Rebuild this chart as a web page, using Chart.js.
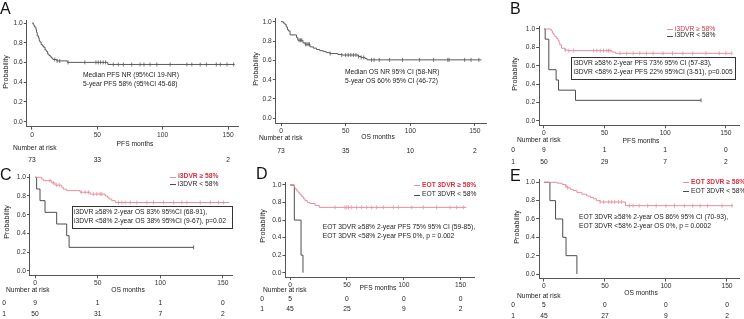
<!DOCTYPE html>
<html lang="en">
<head>
<meta charset="UTF-8">
<title>Kaplan-Meier curves</title>
<script src="https://cdn.jsdelivr.net/npm/chart.js"></script>
<style>
  body { margin: 0; background: #fff; }
  #wrap { position: relative; width: 744px; height: 319px; overflow: hidden; }
  #wrap canvas { position: absolute; left: 0; top: 0; }
</style>
</head>
<body>
<div id="wrap">
  <canvas id="pA" width="744" height="319"></canvas>
  <canvas id="pOS" width="744" height="319"></canvas>
  <canvas id="pB" width="744" height="319"></canvas>
  <canvas id="pC" width="744" height="319"></canvas>
  <canvas id="pD" width="744" height="319"></canvas>
  <canvas id="pE" width="744" height="319"></canvas>
</div>
<script>
// ---- data ----
const xTicks = [0, 50, 100, 150];
const yTicks = [0, 0.2, 0.4, 0.6, 0.8, 1.0];
const riskTimes = [0, 50, 100, 150];

// A: PFS, all patients
const aTime = [0, 1, 1.5, 2, 3, 3.5, 4, 5, 5.5, 6, 7, 8, 9, 10, 11, 12, 13, 14, 15, 16, 19, 27, 58, 155];
const aSurv = [1, 0.986, 0.973, 0.959, 0.932, 0.904, 0.870, 0.849, 0.822, 0.808, 0.781, 0.767, 0.753, 0.726, 0.712, 0.685, 0.671, 0.657, 0.644, 0.630, 0.616, 0.601, 0.58, 0.58];
const aCens = [17.4, 19.2, 21.2, 27.6, 40.4, 48.9, 50.7, 52.5, 54.5, 56.3, 62.2, 66, 69.9, 76.3, 82.7, 85.7, 90.3, 95.5, 105.7, 118.5, 122.3, 128.7, 133.4, 141, 144.1, 149.2, 154.3];
const aRisk = [73, 33, null, 2];

// OS, all patients
const osTime = [0, 1.8, 3, 4, 5, 5.7, 7, 12, 13, 17, 18.5, 22.4, 25, 27.5, 30, 32.7, 35, 38, 44, 47, 59.7, 62, 65, 66.5, 155];
const osSurv = [1, 0.986, 0.973, 0.945, 0.918, 0.904, 0.863, 0.836, 0.808, 0.781, 0.767, 0.74, 0.726, 0.712, 0.70, 0.69, 0.68, 0.67, 0.66, 0.655, 0.64, 0.63, 0.62, 0.605, 0.605];
const osCens = [14, 15, 16, 19, 20, 21, 22, 38, 47, 50, 52, 54, 56, 58, 60, 62, 64, 70, 72, 76, 84, 94, 107, 118, 129, 130, 142, 147, 153];
const osRisk = [73, 35, 10, 2];

// B: PFS by i3DVR
const bHiTime = [0, 6, 7, 8, 9, 10.5, 11.7, 12.5, 13.1, 14.5, 17.2, 19.9, 56, 59, 155];
const bHiSurv = [1, 0.98, 0.955, 0.935, 0.915, 0.895, 0.875, 0.85, 0.826, 0.79, 0.77, 0.764, 0.749, 0.735, 0.735];
const bHiCens = [17.7, 20.5, 24.5, 40.9, 43.6, 46.4, 49.1, 51.8, 53.2, 54.5, 62.7, 68.2, 73.6, 79, 84.5, 90, 98.2, 106, 114.5, 122.7, 133.6, 144.5, 150, 154.9];
const bLoTime = [0, 1, 4, 10, 12, 26, 129.5];
const bLoSurv = [1, 0.889, 0.556, 0.444, 0.333, 0.222, 0.222];
const bLoCens = [129.5];
const bRisk0 = [9, 1, 1, 0];
const bRisk1 = [50, 29, 7, 2];

// C: OS by i3DVR
const cHiTime = [0, 5.3, 6.7, 13.3, 16, 21.3, 22.6, 25.3, 36, 44, 56, 57.8, 59, 61.3, 64, 155];
const cHiSurv = [1, 0.98, 0.964, 0.94, 0.916, 0.893, 0.873, 0.857, 0.84, 0.82, 0.80, 0.786, 0.768, 0.75, 0.73, 0.73];
const cHiCens = [12, 14.7, 17.3, 19.4, 37, 40, 42.6, 46.6, 49.3, 52, 53.3, 66.6, 69.3, 72, 76, 81.3, 89.3, 94.6, 102.6, 110.6, 117.2, 121.2, 131.9, 139.9, 146.5, 150.5];
const cLoTime = [0, 1.3, 4, 8, 17.3, 25.3, 27.2, 126.6];
const cLoSurv = [1, 0.875, 0.75, 0.625, 0.5, 0.375, 0.25, 0.25];
const cLoCens = [126.6];
const cRisk0 = [9, 1, 1, 0];
const cRisk1 = [50, 31, 7, 2];

// D: PFS by EOT 3DVR
const dHiTime = [0, 3.8, 4.4, 5.9, 7.3, 8.8, 10.3, 11.7, 13.2, 15.2, 17.6, 22, 25.8, 155];
const dHiSurv = [1, 0.978, 0.956, 0.933, 0.911, 0.889, 0.867, 0.844, 0.822, 0.80, 0.789, 0.767, 0.745, 0.745];
const dHiCens = [39.6, 48.3, 49.8, 51.3, 54.2, 58.6, 63, 67.4, 71.8, 76.2, 82, 90.8, 95.2, 107, 117.2, 128.9, 140.6, 146.5, 152.4];
const dLoTime = [0, 3.8, 9.7, 11.4];
const dLoSurv = [1, 0.6, 0.2, 0];
const dRisk0 = [5, 0, 0, 0];
const dRisk1 = [45, 25, 9, 2];

// E: OS by EOT 3DVR
const eHiTime = [0, 11, 15, 17.6, 19, 21.6, 24, 27, 31, 35, 38, 40.5, 43, 46, 66.8, 155];
const eHiSurv = [1, 0.99, 0.975, 0.96, 0.94, 0.924, 0.91, 0.89, 0.87, 0.85, 0.836, 0.82, 0.80, 0.785, 0.745, 0.745];
const eHiCens = [18, 19.5, 46, 49, 53, 55.5, 58, 61, 63.5, 70, 73, 78, 85, 92, 100, 107, 115, 122, 128, 134, 146, 154];
const eLoTime = [0, 4.9, 9.5, 15.4, 18.1, 27];
const eLoSurv = [1, 0.8, 0.6, 0.4, 0.2, 0];
const eRisk0 = [5, 0, 0, 0];
const eRisk1 = [45, 27, 9, 2];

// ---- styling ----
const FONT = '"Liberation Sans", Arial, "DejaVu Sans", sans-serif';
const FS = 6.7;
const RED_LINE = '#e58f9b';
const RED_TEXT = '#d3303f';
const DARK = '#4d4d4d';
const GREY = '#5a5a5a';
const AXIS = '#555';
const TXT = '#222';
const Y_W = 16, X_H = 12;

function stepAt(times, surv, t) {
  let v = surv[0];
  for (let i = 0; i < times.length; i++) if (times[i] <= t) v = surv[i];
  return v;
}

function curve(times, surv, color) {
  return {
    type: 'line',
    data: times.map((t, i) => ({ x: t, y: surv[i] })),
    stepped: true,
    borderColor: color,
    borderWidth: 1,
    pointRadius: 0,
    fill: false
  };
}

function censors(cTimes, times, surv, color) {
  return {
    type: 'scatter',
    data: cTimes.map(t => ({ x: t, y: stepAt(times, surv, t) })),
    showLine: false,
    pointStyle: 'line',
    pointRotation: 90,
    pointRadius: 2,
    pointBorderColor: color,
    pointBorderWidth: 0.8
  };
}

// draws panel letters, axis titles, notes, legend and the at-risk table
const kmPlugin = {
  id: 'km',
  afterDraw(chart) {
    const o = chart.options.plugins.km;
    const ctx = chart.ctx;
    const font = (s, b) => (b ? 'bold ' : '') + s + 'px ' + FONT;
    ctx.save();
    ctx.textBaseline = 'middle';
    ctx.fillStyle = TXT;

    if (o.letter) {
      ctx.font = font(16);
      ctx.textAlign = 'left';
      ctx.fillStyle = '#111';
      ctx.fillText(o.letter.text, o.letter.x, o.letter.y);
      ctx.fillStyle = TXT;
    }

    // y title
    ctx.save();
    ctx.translate(o.yTitle.x, o.yTitle.y);
    ctx.rotate(-Math.PI / 2);
    ctx.font = font(7.2);
    ctx.textAlign = 'center';
    ctx.fillText('Probability', 0, 0);
    ctx.restore();

    // x title
    ctx.font = font(FS);
    ctx.textAlign = 'center';
    ctx.fillText(o.xTitle.text, o.xTitle.x, o.xTitle.y);

    // notes
    if (o.box) {
      ctx.strokeStyle = '#333';
      ctx.lineWidth = 1;
      ctx.strokeRect(o.box.x + 0.5, o.box.y + 0.5, o.box.w, o.box.h);
    }
    ctx.textAlign = 'left';
    (o.notes || []).forEach(n => {
      ctx.font = font(FS);
      ctx.fillStyle = TXT;
      ctx.fillText(n.text, n.x, n.y);
    });

    // legend
    (o.legend || []).forEach(l => {
      ctx.strokeStyle = l.color;
      ctx.lineWidth = 1;
      ctx.beginPath();
      ctx.moveTo(l.x, Math.round(l.y) + 0.5);
      ctx.lineTo(l.x + 6, Math.round(l.y) + 0.5);
      ctx.stroke();
      ctx.font = font(FS, l.bold);
      ctx.fillStyle = l.textColor;
      ctx.fillText(l.text, l.x + 8, l.y);
    });

    // number at risk
    const r = o.risk;
    ctx.fillStyle = TXT;
    ctx.font = font(FS);
    ctx.textAlign = 'left';
    ctx.fillText('Number at risk', r.x, r.y);
    const xs = chart.scales.x;
    r.rows.forEach(row => {
      if (row.tag !== undefined) {
        ctx.textAlign = 'center';
        ctx.fillText(row.tag, row.tagX, row.y);
      }
      ctx.textAlign = 'center';
      row.values.forEach((v, i) => {
        if (v === null) return;
        ctx.fillText(String(v), xs.getPixelForValue(riskTimes[i]), row.y);
      });
    });
    ctx.restore();
  }
};

function makeScales(g) {
  const tickFont = { family: FONT, size: FS };
  return {
    x: {
      type: 'linear', min: -4, max: g.xMax,
      afterBuildTicks: a => { a.ticks = xTicks.map(v => ({ value: v })); },
      afterFit: a => { a.height = X_H; },
      grid: { display: true, drawOnChartArea: false, drawTicks: true, tickLength: 3, color: AXIS },
      border: { display: true, color: AXIS, width: 1 },
      ticks: { font: tickFont, color: '#333', padding: 1, maxRotation: 0, autoSkip: false,
               callback: v => String(v) }
    },
    y: {
      type: 'linear', min: -0.05, max: 1.03,
      afterBuildTicks: a => { a.ticks = yTicks.map(v => ({ value: v })); },
      afterFit: a => { a.width = Y_W; },
      grid: { display: true, drawOnChartArea: false, drawTicks: true, tickLength: 3, color: AXIS },
      border: { display: true, color: AXIS, width: 1 },
      ticks: { font: tickFont, color: '#333', padding: 1, autoSkip: false,
               callback: v => v.toFixed(1) }
    }
  };
}

function makeChart(id, g, datasets, km) {
  const left = g.x0 - 4 * g.k - Y_W;
  const right = 744 - (g.x0 + g.k * g.xMax);
  const top = g.y0 - g.u * 1.03;
  const bottom = 319 - (g.y0 + g.u * 0.05) - X_H;
  return new Chart(document.getElementById(id), {
    type: 'line',
    data: { datasets: datasets },
    options: {
      responsive: false,
      animation: false,
      events: [],
      layout: { padding: { left: left, right: right, top: top, bottom: bottom } },
      scales: makeScales(g),
      plugins: { legend: { display: false }, tooltip: { enabled: false }, km: km }
    },
    plugins: [kmPlugin]
  });
}

// panel A
makeChart('pA', { x0: 32, k: 1.307, y0: 121.7, u: 98.7, xMax: 158 },
  [curve(aTime, aSurv, GREY), censors(aCens, aTime, aSurv, GREY)],
  {
    letter: { text: 'A', x: 0, y: 10 },
    yTitle: { x: 6, y: 72 },
    xTitle: { text: 'PFS months', x: 135, y: 144 },
    notes: [
      { text: 'Median PFS NR (95%CI 19-NR)', x: 83, y: 75 },
      { text: '5-year PFS 58% (95%CI 45-68)', x: 83, y: 84 }
    ],
    risk: { x: 13, y: 148, rows: [{ y: 160, values: aRisk }] }
  });

// panel OS (top middle)
makeChart('pOS', { x0: 281, k: 1.293, y0: 118.3, u: 96.6, xMax: 159 },
  [curve(osTime, osSurv, GREY), censors(osCens, osTime, osSurv, GREY)],
  {
    yTitle: { x: 256, y: 69 },
    xTitle: { text: 'OS months', x: 378, y: 137 },
    notes: [
      { text: 'Median OS NR 95% CI (58-NR)', x: 345, y: 72 },
      { text: '5-year OS 60% 95% CI (46-72)', x: 345, y: 81 }
    ],
    risk: { x: 259, y: 138, rows: [{ y: 151, values: osRisk }] }
  });

// panel B
makeChart('pB', { x0: 544, k: 1.22, y0: 120.7, u: 91.7, xMax: 161 },
  [curve(bHiTime, bHiSurv, RED_LINE), censors(bHiCens, bHiTime, bHiSurv, RED_LINE),
   curve(bLoTime, bLoSurv, DARK), censors(bLoCens, bLoTime, bLoSurv, DARK)],
  {
    letter: { text: 'B', x: 510, y: 10 },
    yTitle: { x: 515.5, y: 74 },
    xTitle: { text: 'PFS months', x: 641, y: 141 },
    legend: [
      { text: 'i3DVR \u2265 58%', x: 667, y: 28.7, color: RED_LINE, textColor: RED_TEXT, bold: false },
      { text: 'i3DVR < 58%', x: 667, y: 35.5, color: DARK, textColor: TXT }
    ],
    box: { x: 571, y: 57, w: 164, h: 22 },
    notes: [
      { text: 'i3DVR \u226558% 2-year PFS 73% 95% CI (57-83),', x: 573.5, y: 63.5 },
      { text: 'i3DVR <58% 2-year PFS 22% 95%CI (3-51), p=0.005', x: 573.5, y: 72.5 }
    ],
    risk: { x: 517, y: 140, rows: [
      { tag: '0', tagX: 513, y: 150, values: bRisk0 },
      { tag: '1', tagX: 513, y: 162, values: bRisk1 }
    ] }
  });

// panel C
makeChart('pC', { x0: 35, k: 1.253, y0: 270.7, u: 93.4, xMax: 158 },
  [curve(cHiTime, cHiSurv, RED_LINE), censors(cHiCens, cHiTime, cHiSurv, RED_LINE),
   curve(cLoTime, cLoSurv, DARK), censors(cLoCens, cLoTime, cLoSurv, DARK)],
  {
    letter: { text: 'C', x: 0, y: 176 },
    yTitle: { x: 7.5, y: 222 },
    xTitle: { text: 'OS months', x: 128, y: 290 },
    legend: [
      { text: 'i3DVR \u2265 58%', x: 170, y: 176.5, color: RED_LINE, textColor: RED_TEXT, bold: true },
      { text: 'i3DVR < 58%', x: 170, y: 184.3, color: DARK, textColor: TXT }
    ],
    box: { x: 72, y: 206, w: 160, h: 22 },
    notes: [
      { text: 'i3DVR \u226558% 2-year OS 83% 95%CI (68-91),', x: 74, y: 212 },
      { text: 'i3DVR <58% 2-year OS 38% 95%CI (9-67), p=0.02', x: 74, y: 221 }
    ],
    risk: { x: 6, y: 290, rows: [
      { tag: '0', tagX: 4, y: 303, values: cRisk0 },
      { tag: '1', tagX: 4, y: 314, values: cRisk1 }
    ] }
  });

// panel D
makeChart('pD', { x0: 290, k: 1.138, y0: 272.7, u: 87.7, xMax: 162 },
  [curve(dHiTime, dHiSurv, RED_LINE), censors(dHiCens, dHiTime, dHiSurv, RED_LINE),
   curve(dLoTime, dLoSurv, DARK)],
  {
    letter: { text: 'D', x: 256, y: 175 },
    yTitle: { x: 263, y: 226 },
    xTitle: { text: 'PFS months', x: 378, y: 288 },
    legend: [
      { text: 'EOT 3DVR \u2265 58%', x: 414, y: 184.7, color: RED_LINE, textColor: RED_TEXT, bold: true },
      { text: 'EOT 3DVR < 58%', x: 414, y: 194.5, color: DARK, textColor: TXT }
    ],
    notes: [
      { text: 'EOT 3DVR \u226558% 2-year PFS 75% 95% CI (59-85),', x: 322.7, y: 226.7 },
      { text: 'EOT 3DVR <58% 2-year PFS 0%, p = 0.002', x: 322.7, y: 235.7 }
    ],
    risk: { x: 263, y: 290, rows: [
      { tag: '0', tagX: 262, y: 299, values: dRisk0 },
      { tag: '1', tagX: 262, y: 309, values: dRisk1 }
    ] }
  });

// panel E
makeChart('pE', { x0: 544, k: 1.233, y0: 274, u: 91.7, xMax: 160 },
  [curve(eHiTime, eHiSurv, RED_LINE), censors(eHiCens, eHiTime, eHiSurv, RED_LINE),
   curve(eLoTime, eLoSurv, DARK)],
  {
    letter: { text: 'E', x: 510, y: 177 },
    yTitle: { x: 517.5, y: 227 },
    xTitle: { text: 'OS months', x: 641, y: 293 },
    legend: [
      { text: 'EOT 3DVR \u2265 58%', x: 683, y: 181.7, color: RED_LINE, textColor: RED_TEXT, bold: true },
      { text: 'EOT 3DVR < 58%', x: 683, y: 191.3, color: DARK, textColor: TXT }
    ],
    notes: [
      { text: 'EOT 3DVR \u226558% 2-year OS 86% 95% CI (70-93),', x: 579, y: 217.5 },
      { text: 'EOT 3DVR <58% 2-year OS 0%, p = 0.0002', x: 579, y: 226 }
    ],
    risk: { x: 517, y: 295.7, rows: [
      { tag: '0', tagX: 513, y: 305, values: eRisk0 },
      { tag: '1', tagX: 513, y: 315.7, values: eRisk1 }
    ] }
  });
</script>
</body>
</html>
